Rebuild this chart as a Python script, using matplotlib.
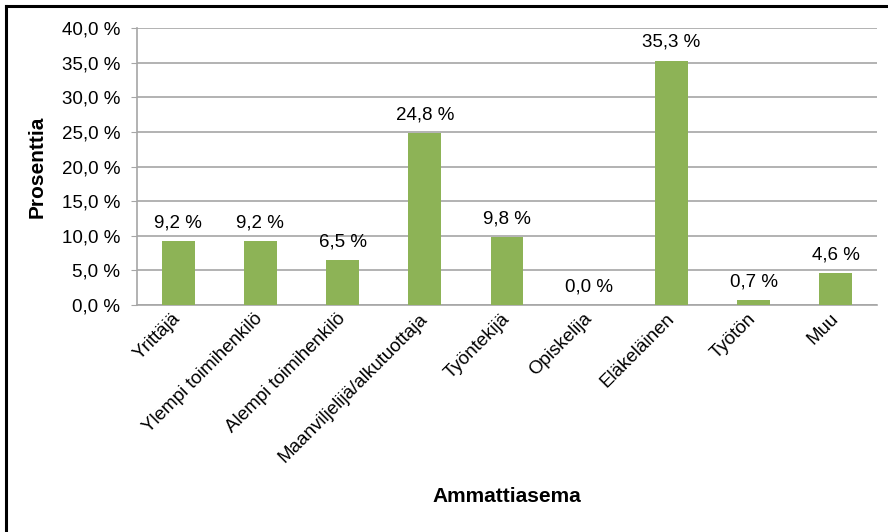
import matplotlib
matplotlib.use('Agg')
import matplotlib.pyplot as plt
from matplotlib.lines import Line2D
import numpy as np

# Ammattiasema-jakauma (%)
categories = ['Yrittäjä', 'Ylempi toimihenkilö', 'Alempi toimihenkilö',
              'Maanviljelijä/alkutuottaja', 'Työntekijä', 'Opiskelija',
              'Eläkeläinen', 'Työtön', 'Muu']
values = [9.2, 9.2, 6.5, 24.8, 9.8, 0.0, 35.3, 0.7, 4.6]
yticks = [0, 5, 10, 15, 20, 25, 30, 35, 40]

bar_color = '#8DB356'
grid_color = '#A6A6A6'


def fi_pct(v):
    return f"{v:.1f} %".replace('.', ',')


plt.rcParams['font.family'] = ['Liberation Sans', 'DejaVu Sans']

W, H = 888, 532
fig = plt.figure(figsize=(W / 100, H / 100), dpi=100)
ax = fig.add_axes([137 / W, 1 - 305 / H, (877 - 137) / W, (305 - 28) / H])

x = np.arange(len(categories))
ax.bar(x, values, width=0.4, color=bar_color, zorder=3)

for xi, v in zip(x, values):
    ax.annotate(fi_pct(v), (xi, v), xytext=(0, 7), textcoords='offset points',
                ha='center', va='bottom', fontsize=13.5, color='black')

ax.set_xlim(-0.5, len(categories) - 0.5)
ax.set_ylim(0, 40)
ax.set_yticks(yticks)
ax.set_yticklabels([fi_pct(t) for t in yticks], fontsize=13.5)
ax.yaxis.grid(True, color=grid_color, linewidth=1.2, zorder=0)
ax.set_axisbelow(True)

ax.set_xticks(x)
ax.set_xticklabels(categories, rotation=45, ha='right', va='center',
                   rotation_mode='anchor', fontsize=13.5)
ax.tick_params(axis='x', length=0, pad=8)
ax.tick_params(axis='y', length=4, color=grid_color, pad=8)

for side in ('top', 'right'):
    ax.spines[side].set_visible(False)
for side in ('left', 'bottom'):
    ax.spines[side].set_color(grid_color)
    ax.spines[side].set_linewidth(1.2)

ax.set_ylabel('Prosenttia', fontsize=15, fontweight='bold', labelpad=11)
fig.text(507 / W, 1 - 497 / H, 'Ammattiasema', ha='center', va='center',
         fontsize=15, fontweight='bold')

# kehys: vain ylä- ja vasen reuna näkyvät
fig.add_artist(Line2D([6 / W, 1.0], [1 - 5.5 / H, 1 - 5.5 / H],
                      transform=fig.transFigure, color='black', linewidth=2.2))
fig.add_artist(Line2D([6 / W, 6 / W], [0.0, 1 - 5.5 / H],
                      transform=fig.transFigure, color='black', linewidth=2.2))

fig.savefig('out.png', dpi=100)
